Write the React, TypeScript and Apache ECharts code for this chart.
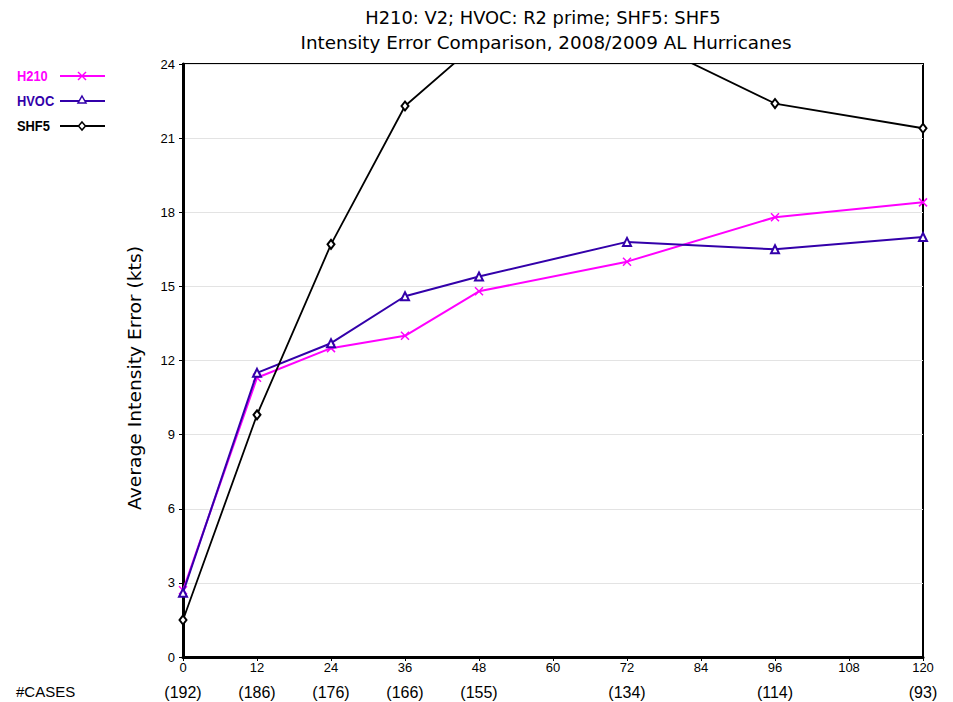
import React, { useEffect, useRef } from "react";
import * as echarts from "echarts";

const hours = [0, 12, 24, 36, 48, 72, 96, 120];
const cases = [192, 186, 176, 166, 155, 134, 114, 93];
const h210 = [2.7, 11.3, 12.5, 13.0, 14.8, 16.0, 17.8, 18.4];
const hvoc = [2.6, 11.5, 12.7, 14.6, 15.4, 16.8, 16.5, 17.0];
const shf5 = [1.5, 9.8, 16.7, 22.3, 24.9, 25.3, 22.4, 21.4];

const titleLines = [
  "H210: V2; HVOC: R2 prime; SHF5: SHF5",
  "Intensity Error Comparison, 2008/2009 AL Hurricanes",
];
const yName = "Average Intensity Error (kts)";

const C_H210 = "#ff00ff";
const C_HVOC = "#3300aa";
const C_SHF5 = "#000000";

const pairs = (ys: number[]) => hours.map((h, i) => [h, ys[i]]);

export default function App() {
  const ref = useRef<HTMLDivElement>(null);
  useEffect(() => {
    if (!ref.current) return;
    const chart = echarts.init(ref.current, null, { renderer: "svg" });
    const tickFont = "Liberation Sans";
    const legendRows = [
      { name: "H210", color: C_H210, y: 76, mk: "x" },
      { name: "HVOC", color: C_HVOC, y: 101, mk: "tri" },
      { name: "SHF5", color: C_SHF5, y: 126, mk: "dia" },
    ];
    const legendEls: any[] = [];
    legendRows.forEach((r) => {
      legendEls.push({
        type: "text",
        x: 17,
        y: r.y,
        scaleX: 0.92,
        style: {
          text: r.name,
          x: 0,
          y: 0,
          fill: r.color,
          font: 'bold 14px "Liberation Sans"',
          verticalAlign: "middle",
          textVerticalAlign: "middle",
        },
      });
      legendEls.push({
        type: "line",
        shape: { x1: 60, y1: r.y, x2: 105, y2: r.y },
        style: { stroke: r.color, lineWidth: 2 },
      });
      const cx = 82;
      if (r.mk === "x") {
        legendEls.push({ type: "line", shape: { x1: cx - 4, y1: r.y - 4, x2: cx + 4, y2: r.y + 4 }, style: { stroke: r.color, lineWidth: 1.5 } });
        legendEls.push({ type: "line", shape: { x1: cx + 4, y1: r.y - 4, x2: cx - 4, y2: r.y + 4 }, style: { stroke: r.color, lineWidth: 1.5 } });
      } else if (r.mk === "tri") {
        legendEls.push({ type: "polygon", shape: { points: [[cx, r.y - 5], [cx + 4, r.y + 2], [cx - 4, r.y + 2]] }, style: { fill: "#fff", stroke: r.color, lineWidth: 1.5 } });
      } else {
        legendEls.push({ type: "polygon", shape: { points: [[cx, r.y - 4], [cx + 3.5, r.y], [cx, r.y + 4], [cx - 3.5, r.y]] }, style: { fill: "#fff", stroke: r.color, lineWidth: 1.5 } });
      }
    });

    const centeredText = (text: string, x: number, y: number, font: string, scaleX: number, rotation = 0) => ({
      type: "text",
      x,
      y,
      scaleX,
      rotation,
      style: {
        text,
        x: 0,
        y: 0,
        fill: "#000",
        font,
        align: "center",
        textAlign: "center",
        verticalAlign: "middle",
        textVerticalAlign: "middle",
      },
    });

    chart.setOption({
      animation: false,
      backgroundColor: "#fff",
      grid: {
        left: 183,
        right: 30,
        top: 64,
        bottom: 45,
        show: true,
        borderColor: "#000",
        borderWidth: 2,
        containLabel: false,
      },
      xAxis: {
        type: "value",
        min: 0,
        max: 120,
        interval: 12,
        axisLine: { show: true, lineStyle: { color: "#000", width: 3 } },
        axisTick: { show: true, length: 4, lineStyle: { color: "#000", width: 1 } },
        splitLine: { show: false },
        axisLabel: {
          margin: 3,
          color: "#000",
          fontFamily: tickFont,
          fontSize: 13,
          formatter: (v: number) => {
            const i = hours.indexOf(v);
            const c = i >= 0 ? "(" + cases[i] + ")" : " ";
            return "{v|" + v + "}\n{c|" + c + "}";
          },
          rich: {
            v: { fontFamily: tickFont, fontSize: 13, lineHeight: 14, color: "#000" },
            c: { fontFamily: tickFont, fontSize: 16, lineHeight: 36, color: "#000" },
          },
        },
      },
      yAxis: {
        type: "value",
        min: 0,
        max: 24,
        interval: 3,
        axisLine: { show: true, lineStyle: { color: "#000", width: 3 } },
        axisTick: { show: true, length: 4, lineStyle: { color: "#000", width: 1 } },
        splitLine: { show: true, lineStyle: { color: "#e3e3e3", width: 1 } },
        axisLabel: { margin: 8, color: "#000", fontFamily: tickFont, fontSize: 13 },
      },
      graphic: [
        centeredText(titleLines[0], 543, 18, '17px "DejaVu Sans"', 1.05),
        centeredText(titleLines[1], 546, 43, '17px "DejaVu Sans"', 1.08),
        centeredText(yName, 135, 378, '17px "DejaVu Sans"', 1.1, Math.PI / 2),
        {
          type: "text",
          style: {
            text: "#CASES",
            x: 16,
            y: 691,
            fill: "#000",
            font: '15px "Liberation Sans"',
            verticalAlign: "middle",
            textVerticalAlign: "middle",
          },
        },
        ...legendEls,
      ],
      series: [
        {
          name: "H210",
          type: "line",
          data: pairs(h210),
          clip: true,
          symbol: "path://M0 0L10 10M10 0L0 10",
          symbolSize: 8,
          lineStyle: { color: C_H210, width: 2 },
          itemStyle: { color: C_H210, borderColor: C_H210, borderWidth: 1.5 },
          z: 3,
        },
        {
          name: "HVOC",
          type: "line",
          data: pairs(hvoc),
          clip: true,
          symbol: "emptyTriangle",
          symbolSize: 8,
          showAllSymbol: true,
          lineStyle: { color: C_HVOC, width: 2 },
          itemStyle: { color: C_HVOC, borderColor: C_HVOC, borderWidth: 1.5 },
          z: 4,
        },
        {
          name: "SHF5",
          type: "line",
          data: pairs(shf5),
          clip: true,
          symbol: "emptyDiamond",
          symbolSize: [7, 9],
          lineStyle: { color: C_SHF5, width: 1.8 },
          itemStyle: { color: C_SHF5, borderColor: C_SHF5, borderWidth: 1.2 },
          z: 5,
        },
      ],
    });
    return () => chart.dispose();
  }, []);
  return <div ref={ref} style={{ width: 953, height: 702, position: "absolute", left: 0, top: 0 }} />;
}
